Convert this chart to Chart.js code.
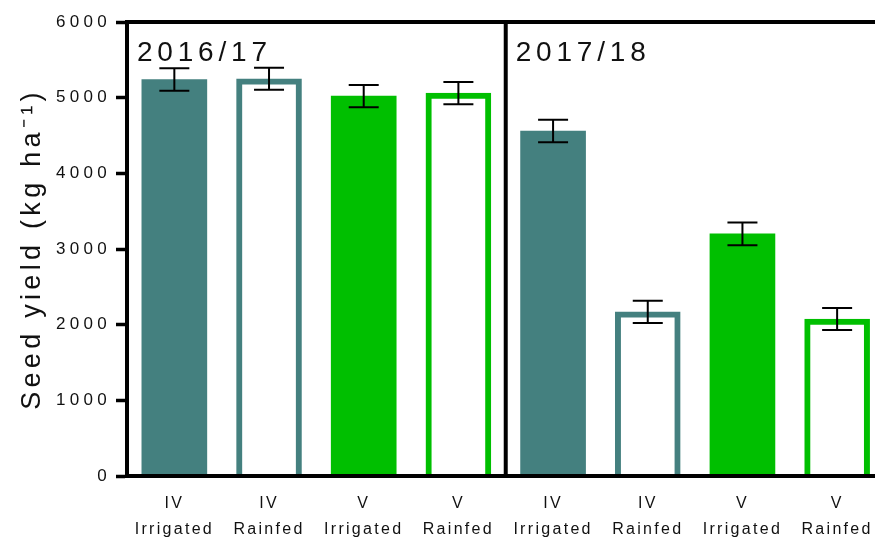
<!DOCTYPE html>
<html><head><meta charset="utf-8">
<script src="https://cdn.jsdelivr.net/npm/chart.js@4"></script>
<style>html,body{margin:0;padding:0;background:#fff;overflow:hidden}#wrap{width:875px;height:538px;position:relative}</style>
</head><body><div id="wrap"><canvas id="c" width="875" height="538"></canvas></div>
<script>
const seasons = ['2016/17', '2017/18'];
const varieties = ['IV', 'IV', 'V', 'V', 'IV', 'IV', 'V', 'V'];
const treatments = ['Irrigated', 'Rainfed', 'Irrigated', 'Rainfed', 'Irrigated', 'Rainfed', 'Irrigated', 'Rainfed'];
const yieldMeans = [5240, 5250, 5020, 5060, 4560, 2170, 3200, 2075];
const yieldErrors = [150, 146, 148, 148, 148, 147, 150, 146];
const yTicks = [0, 1000, 2000, 3000, 4000, 5000, 6000];

const TEAL = '#44807f', GREEN = '#00bf00', INK = '#111';
const FONT = 'Liberation Sans';
const col = i => varieties[i] === 'IV' ? TEAL : GREEN;
const filled = i => treatments[i] === 'Irrigated';

const decor = {
  id: 'decor',
  beforeUpdate(c) { c.ctx.letterSpacing = '0px'; },
  beforeDraw(c) { c.ctx.letterSpacing = '4.3px'; },
  afterDatasetsDraw(c) {
    const {ctx, scales: {x, y}} = c;
    ctx.save();
    ctx.letterSpacing = '0px';
    ctx.strokeStyle = '#000'; ctx.lineWidth = 2;
    yieldMeans.forEach((m, i) => {
      const px = x.getPixelForValue(i);
      const t = y.getPixelForValue(m + yieldErrors[i]);
      const b = y.getPixelForValue(m - yieldErrors[i]);
      ctx.beginPath();
      ctx.moveTo(px, t); ctx.lineTo(px, b);
      ctx.moveTo(px - 15, t); ctx.lineTo(px + 15, t);
      ctx.moveTo(px - 15, b); ctx.lineTo(px + 15, b);
      ctx.stroke();
    });
    ctx.restore();
    ctx.letterSpacing = '2.3px';
  },
  afterDraw(c) {
    const {ctx, chartArea: a, scales: {x}} = c;
    ctx.save();
    ctx.strokeStyle = '#000'; ctx.lineWidth = 4;
    ctx.beginPath();
    ctx.moveTo(a.left - 2, a.top); ctx.lineTo(a.right, a.top);
    const xd = x.getPixelForValue(3.5);
    ctx.moveTo(xd, a.top); ctx.lineTo(xd, a.bottom + 2);
    ctx.stroke();
    ctx.letterSpacing = '4.8px';
    ctx.font = '28px "' + FONT + '"';
    ctx.fillStyle = INK; ctx.textBaseline = 'alphabetic'; ctx.textAlign = 'left';
    seasons.forEach((s, k) => {
      const px = x.getPixelForValue(-0.5 + 4 * k);
      ctx.fillText(s, px + 10, a.top + 39);
    });
    ctx.restore();
  }
};

new Chart(document.getElementById('c'), {
  type: 'bar',
  data: {
    datasets: [{
      data: yieldMeans.map((v, i) => ({x: i, y: v})),
      backgroundColor: yieldMeans.map((_, i) => filled(i) ? col(i) : '#ffffff'),
      borderColor: yieldMeans.map((_, i) => col(i)),
      borderWidth: yieldMeans.map((_, i) => filled(i) ? 0 : 6),
      borderSkipped: 'start',
      barThickness: 65
    }]
  },
  options: {
    responsive: false, animation: false, devicePixelRatio: 1,
    layout: {padding: {top: 22, right: 0, bottom: 0, left: 0}},
    plugins: {legend: {display: false}, tooltip: {enabled: false}},
    scales: {
      x: {
        type: 'linear', min: -0.5, max: 7.4, offset: false,
        grid: {display: false, drawTicks: false},
        border: {display: true, color: '#000', width: 4, z: 1},
        afterBuildTicks: s => { s.ticks = varieties.map((_, i) => ({value: i})); },
        afterFit: s => { s.height = 62; s.paddingLeft = 0; s.paddingRight = 0; },
        ticks: {
          z: 1, autoSkip: false, maxRotation: 0, minRotation: 0, padding: 15, color: INK,
          font: {family: FONT, size: 16, lineHeight: 1.6},
          callback: v => [varieties[v], treatments[v]]
        }
      },
      y: {
        min: 0, max: 6000,
        afterBuildTicks: s => { s.ticks = yTicks.map(v => ({value: v})); },
        afterFit: s => { s.width = 127; s.paddingTop = 0; s.paddingBottom = 0; },
        grid: {display: true, drawOnChartArea: false, drawTicks: true, tickLength: 11, tickWidth: 3.5, tickColor: '#000', color: '#000'},
        border: {display: true, color: '#000', width: 4},
        ticks: {padding: 5, color: INK, font: {family: FONT, size: 17}, callback: v => String(v)},
        title: {display: true, text: 'Seed yield (kg ha⁻¹)', color: INK, font: {family: FONT, size: 27}, padding: {top: 16, bottom: 0}}
      }
    }
  },
  plugins: [decor]
});
</script>
</body></html>
